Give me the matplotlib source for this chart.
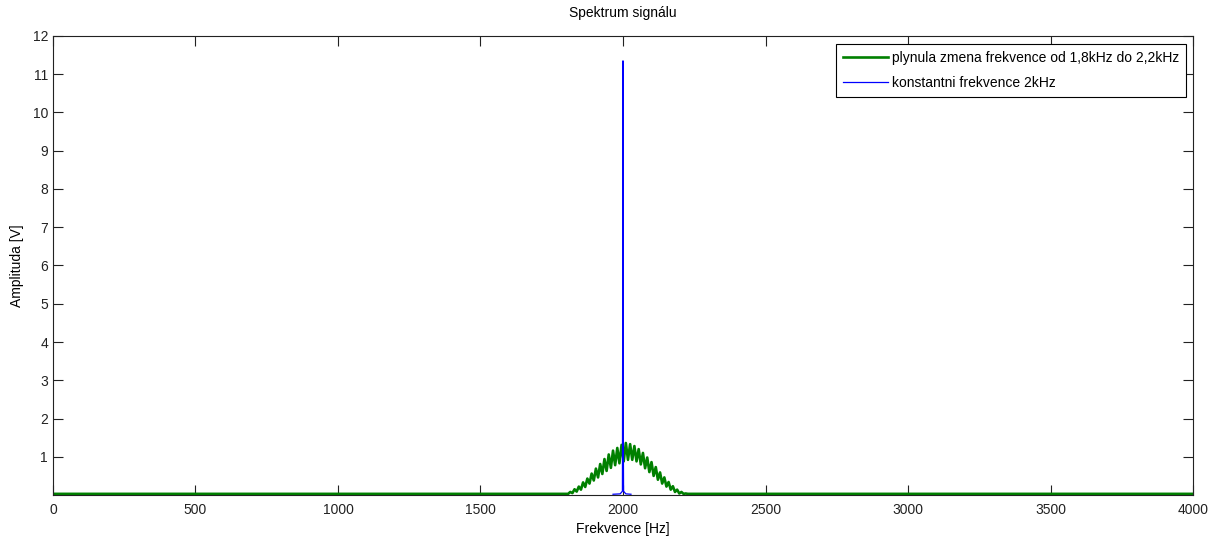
import matplotlib.pyplot as plt
import numpy as np

plt.rcParams['font.family'] = ['Liberation Sans Narrow', 'Liberation Sans', 'DejaVu Sans']

# zelena - plynula zmena frekvence 1,8 - 2,2 kHz
green_f = np.concatenate([[0, 400, 800, 1200, 1600, 1792.5],
                          np.arange(1800, 2227.5, 7.5),
                          [2227.5, 2600, 3000, 3400, 3800, 4000]])
green_a = np.array([0.03, 0.03, 0.03, 0.03, 0.03, 0.03,
                    0.03, 0.03, 0.08, 0.05, 0.15, 0.09, 0.22, 0.14, 0.33, 0.21,
                    0.43, 0.30, 0.56, 0.38, 0.69, 0.46, 0.81, 0.55, 0.94, 0.63,
                    1.06, 0.71, 1.16, 0.78, 1.23, 0.83, 1.31, 0.88, 1.36, 0.92,
                    1.33, 0.92, 1.28, 0.88, 1.20, 0.80, 1.10, 0.70, 0.98, 0.60,
                    0.86, 0.50, 0.73, 0.40, 0.59, 0.30, 0.46, 0.22, 0.34, 0.14,
                    0.23, 0.08, 0.14, 0.04, 0.08, 0.03, 0.04,
                    0.03, 0.03, 0.03, 0.03, 0.03, 0.03])

# modra - konstantni frekvence 2 kHz
blue_f = [1965, 1990, 1998, 1999, 2000, 2001, 2002, 2010, 2028]
blue_a = [0.02, 0.03, 0.1, 5.05, 11.35, 1.75, 0.1, 0.03, 0.02]

x_ticks = [0, 500, 1000, 1500, 2000, 2500, 3000, 3500, 4000]
y_ticks = [1, 2, 3, 4, 5, 6, 7, 8, 9, 10, 11, 12]

fig = plt.figure(figsize=(12.2, 5.41), dpi=100)
ax = fig.add_axes([0.0434, 0.085, 0.9345, 0.8485])

ax.plot(green_f, green_a, color='#008000', linewidth=1.9,
        label='plynula zmena frekvence od 1,8kHz do 2,2kHz')
ax.plot(blue_f, blue_a, color='#0000ff', linewidth=0.9,
        label='konstantni frekvence 2kHz')

ax.set_xlim(0, 4000)
ax.set_ylim(0, 12)
ax.set_xticks(x_ticks)
ax.set_yticks(y_ticks)
ax.tick_params(direction='in', length=7, width=0.8, top=True, right=True,
               labelsize=10, colors='#222222')
ax.tick_params(axis='x', pad=6)
ax.tick_params(axis='y', pad=3.5)
for s in ax.spines.values():
    s.set_linewidth(0.8)
    s.set_color('#222222')

ax.set_title('Spektrum signálu', fontsize=10, pad=14)
ax.set_xlabel('Frekvence [Hz]', fontsize=10, labelpad=3)
ax.set_ylabel('Amplituda [V]', fontsize=10, labelpad=6)

leg = ax.legend(loc='upper right', fontsize=10, fancybox=False,
                edgecolor='black', framealpha=1, borderpad=0.5,
                handlelength=3.2, handletextpad=0.3, labelspacing=0.8,
                borderaxespad=0, bbox_to_anchor=(0.9939, 0.9826))
leg.get_frame().set_linewidth(0.8)

fig.savefig('out.png', dpi=100)
